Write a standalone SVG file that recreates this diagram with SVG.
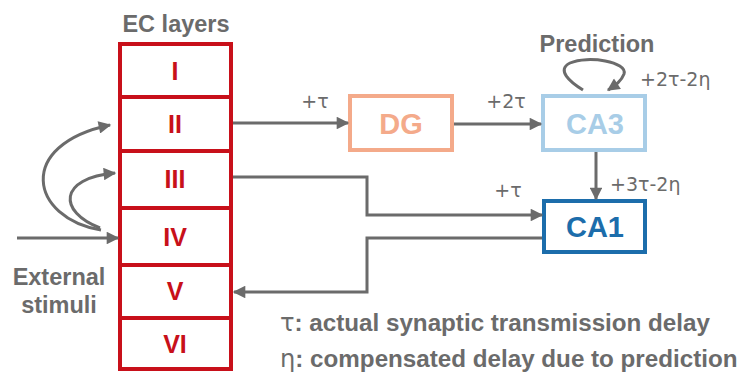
<svg xmlns="http://www.w3.org/2000/svg" width="742" height="374" viewBox="0 0 742 374">
<defs>
<marker id="ah" viewBox="0 0 10 10" refX="9" refY="5" markerWidth="5" markerHeight="4.2" markerUnits="strokeWidth" orient="auto">
<path d="M0,0 L10,5 L0,10 Z" fill="#6b6b6b"/>
</marker>
<style>
.lay{fill:#fff;stroke:#c8101a;stroke-width:4}
.lt{font-family:"Liberation Sans",Arial,sans-serif;font-weight:bold;font-size:25px;fill:#c8101a;text-anchor:middle}
.lbl{font-family:"Liberation Sans",Arial,sans-serif;font-weight:bold;font-size:23.5px;fill:#6b6b6b}
.lg{font-size:24.2px}
.d{font-family:"DejaVu Sans",sans-serif;font-size:19px;fill:#6b6b6b}
.c{fill:none;stroke:#6b6b6b;stroke-width:3}
.nt{font-family:"Liberation Sans",Arial,sans-serif;font-weight:bold;font-size:29px;text-anchor:middle}
</style>
</defs>
<text class="lbl" x="176" y="32" text-anchor="middle">EC layers</text>
<g id="ec">
<rect class="lay" x="120" y="44" width="111" height="53"/>
<rect class="lay" x="120" y="97" width="111" height="54"/>
<rect class="lay" x="120" y="151" width="111" height="57"/>
<rect class="lay" x="120" y="208" width="111" height="57"/>
<rect class="lay" x="120" y="265" width="111" height="53"/>
<rect class="lay" x="120" y="318" width="111" height="51"/>
<text class="lt" x="175" y="80">I</text>
<text class="lt" x="175" y="133">II</text>
<text class="lt" x="175" y="188">III</text>
<text class="lt" x="175" y="246">IV</text>
<text class="lt" x="175" y="300">V</text>
<text class="lt" x="175" y="353">VI</text>
</g>
<g id="dg">
<rect x="350" y="96" width="102" height="54" fill="#fff" stroke="#f4aa8a" stroke-width="4"/>
<text class="nt" x="401" y="134" fill="#f4aa8a">DG</text>
</g>
<g id="ca3">
<rect x="543" y="96" width="102" height="54" fill="#fff" stroke="#a8cde7" stroke-width="4"/>
<text class="nt" x="595" y="134" fill="#a8cde7">CA3</text>
</g>
<g id="ca1">
<rect x="544" y="201" width="101" height="51" fill="#fff" stroke="#1c6dab" stroke-width="4"/>
<text class="nt" x="595" y="237" fill="#1c6dab">CA1</text>
</g>
<g id="connectors">
<path class="c" d="M233,123 H348" marker-end="url(#ah)"/>
<path class="c" d="M454,124 H541" marker-end="url(#ah)"/>
<path class="c" d="M596,152 V199" marker-end="url(#ah)"/>
<path class="c" d="M233,177 H367 V215 H542" marker-end="url(#ah)"/>
<path class="c" d="M542,238 H367 V292 H234" marker-end="url(#ah)"/>
<path class="c" d="M583,90 C570,82 556,70 570,63 C588,55 628,62 624,74 C621,82 614,86 608,90" marker-end="url(#ah)"/>
<path class="c" d="M17,238 H118" marker-end="url(#ah)"/>
<path class="c" d="M101,230 C30,218 15,145 110,125" marker-end="url(#ah)"/>
<path class="c" d="M100,228 C58,212 58,178 115,173" marker-end="url(#ah)"/>
</g>
<text class="d" x="315" y="108" text-anchor="middle">+τ</text>
<text class="d" x="506" y="108" text-anchor="middle">+2τ</text>
<text class="d" x="640" y="86">+2τ-2η</text>
<text class="d" x="610" y="191">+3τ-2η</text>
<text class="d" x="508" y="197" text-anchor="middle">+τ</text>
<text class="lbl" x="597" y="52" text-anchor="middle">Prediction</text>
<text class="lbl" x="59" y="285" text-anchor="middle">External</text>
<text class="lbl" x="59" y="313" text-anchor="middle">stimuli</text>
<text class="lbl lg" x="280" y="331"><tspan font-family="DejaVu Sans,sans-serif" font-weight="normal">τ</tspan>: actual synaptic transmission delay</text>
<text class="lbl lg" x="280" y="367"><tspan font-family="DejaVu Sans,sans-serif" font-weight="normal">η</tspan>: compensated delay due to prediction</text>
</svg>
